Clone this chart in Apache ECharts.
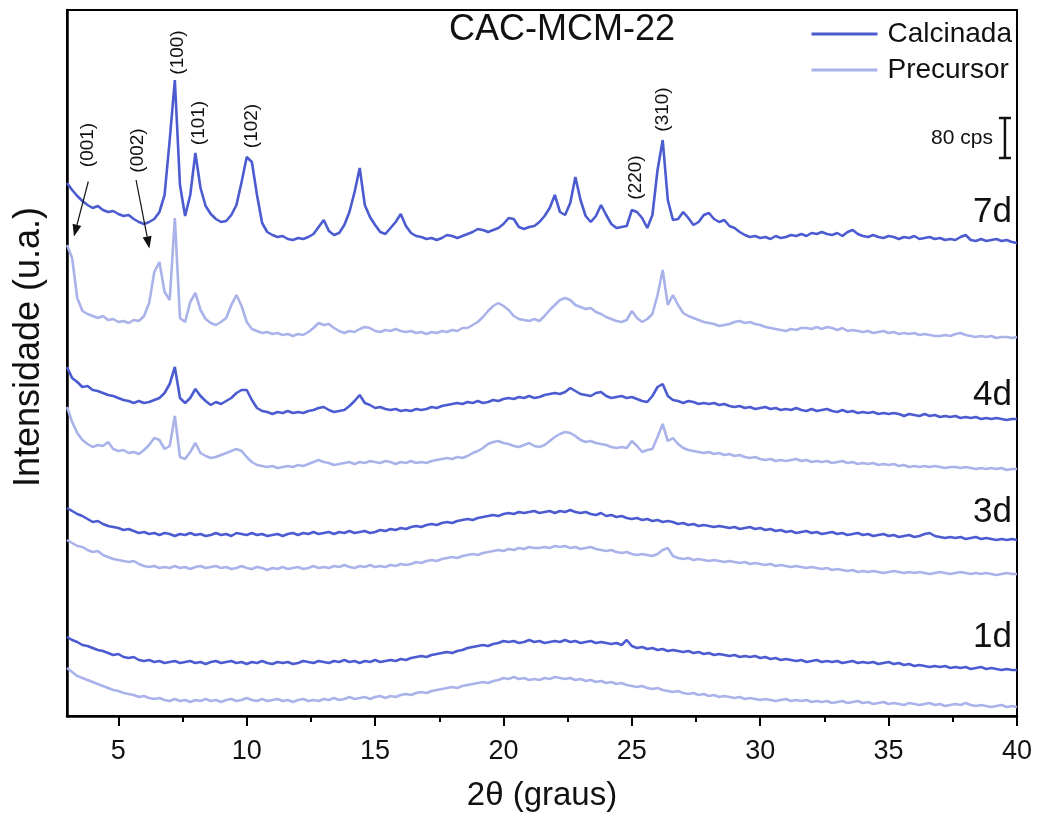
<!DOCTYPE html>
<html>
<head>
<meta charset="utf-8">
<title>CAC-MCM-22</title>
<script src="https://cdn.jsdelivr.net/npm/echarts@6/dist/echarts.min.js"></script>
<style>
  html, body { margin: 0; padding: 0; background: #ffffff; }
  #grafico { width: 1040px; height: 819px; }
</style>
</head>
<body>
<div id="grafico"></div>
<script>
// Difratogramas (2θ de 3° a 40°, passo de 0,2°). As intensidades (cps) já incluem
// o deslocamento vertical de cada curva.
const theta0 = 3;
const passo = 0.2;

const cal7d = [
  1066,1052,1040,1030,1022,1016,1020,1012,1008,1010,
  1004,1000,1002,994,988,984,988,994,1008,1042,
  1152,1272,1062,1000,1042,1126,1056,1020,1004,994,
  988,990,1002,1022,1068,1118,1108,1042,986,968,
  962,958,960,954,952,956,954,958,964,978,
  992,970,962,966,982,1008,1048,1096,1022,998,
  982,968,964,976,988,1004,980,966,960,958,
  954,956,952,956,962,960,956,960,964,968,
  974,972,968,972,976,984,996,994,978,974,
  978,980,988,1000,1016,1042,1008,1002,1026,1078,
  1032,1000,988,1000,1022,1002,984,976,978,980,
  1012,1008,996,976,1002,1092,1152,1032,992,994,
  1008,996,982,988,1002,1006,994,988,992,980,
  976,968,962,958,960,956,958,954,960,956,
  958,962,960,964,960,966,964,968,964,962,
  966,960,968,972,964,960,958,962,958,956,
  960,958,954,958,956,960,954,956,958,954,
  956,952,954,952,958,962,952,950,954,950,
  952,954,950,952,948,946
];
const pre7d = [
  942,916,836,810,804,800,796,800,792,794,
  788,790,786,792,790,800,826,888,908,848,
  832,996,796,788,828,846,812,794,786,782,
  788,796,822,842,820,788,774,770,766,768,
  764,766,762,764,760,764,762,768,776,786,
  782,784,776,770,766,770,768,774,778,776,
  770,768,772,770,774,770,768,770,766,768,
  764,768,766,770,768,772,770,776,776,782,
  788,798,810,820,826,820,812,800,794,792,
  790,794,790,800,812,822,832,836,832,822,
  818,814,816,808,804,798,794,790,788,792,
  810,796,788,794,804,842,892,822,842,822,
  806,800,796,792,788,786,784,780,782,784,
  788,790,786,788,784,782,778,776,774,772,
  770,774,772,776,776,774,778,774,778,776,
  772,776,770,772,770,768,770,766,768,770,
  766,768,764,766,764,766,762,764,762,760,
  760,762,760,764,766,762,760,758,760,758,
  760,756,758,758,756,758
];
const cal4d = [
  698,676,668,658,660,652,650,646,642,640,
  636,632,630,626,630,626,628,632,636,646,
  664,698,636,626,636,654,640,630,622,628,
  624,630,636,646,652,652,632,616,610,608,
  604,608,606,610,606,608,606,610,612,616,
  618,612,608,610,612,620,630,642,626,622,
  616,618,614,612,614,610,612,610,614,612,
  614,618,616,620,622,624,626,624,628,626,
  630,626,628,632,630,634,636,634,638,636,
  640,636,638,642,644,646,644,648,656,650,
  644,642,640,646,648,640,636,638,640,636,
  638,634,630,628,640,658,664,640,632,630,
  626,630,628,624,626,624,626,622,624,620,
  618,620,616,618,614,616,618,614,616,612,
  614,612,616,612,610,614,610,612,614,610,
  608,612,608,610,606,608,606,608,604,606,
  604,606,604,600,604,602,600,604,600,602,
  598,600,598,600,596,598,596,598,594,596,
  594,596,594,592,594,594
];
const pre4d = [
  618,588,566,552,544,538,542,540,548,534,
  530,532,526,528,524,532,542,556,552,534,
  540,600,518,514,528,546,526,520,516,518,
  522,526,530,534,530,518,508,502,500,498,
  500,496,498,500,498,502,500,504,508,512,
  508,506,502,504,506,508,504,508,506,510,
  508,506,510,508,504,508,506,510,506,508,
  506,510,512,514,516,514,518,516,520,526,
  530,536,544,548,550,546,544,540,538,542,
  546,540,538,542,550,558,564,568,566,560,
  552,548,550,546,544,542,538,536,538,536,
  550,540,528,532,534,558,584,550,556,544,
  536,532,530,528,526,528,524,526,522,524,
  520,522,518,516,518,514,512,514,510,512,
  510,512,514,510,512,508,510,508,510,506,
  508,510,506,508,504,506,504,506,502,504,
  502,504,500,502,498,500,498,500,498,500,
  498,496,498,498,496,498,496,494,496,494,
  496,494,496,492,494,494
];
const cal3d = [
  416,410,404,400,394,388,390,384,380,378,
  376,372,374,370,366,368,364,366,362,366,
  364,360,364,362,366,362,364,360,362,366,
  362,364,360,366,364,362,366,362,364,360,
  362,364,360,364,366,362,366,364,368,364,
  366,368,364,368,366,370,366,368,370,366,
  368,372,370,374,372,376,374,378,380,378,
  382,384,382,386,388,386,390,392,394,392,
  396,398,400,402,400,404,406,404,408,406,
  408,410,406,408,410,406,410,408,412,408,
  406,408,404,402,406,400,402,398,400,396,
  394,396,392,394,390,392,388,390,388,384,
  386,382,384,380,382,380,378,380,378,376,
  378,374,376,378,374,376,372,374,370,372,
  368,370,366,368,370,366,368,364,366,368,
  364,366,362,364,366,362,364,360,362,364,
  360,362,358,360,362,358,360,364,366,360,
  358,356,358,356,358,354,356,358,354,356,
  354,352,354,352,354,352
];
const pre3d = [
  352,346,340,338,332,328,330,322,318,314,
  312,310,308,310,304,300,298,300,296,298,
  296,300,296,298,294,298,300,296,298,300,
  296,298,294,296,300,296,294,298,296,292,
  296,294,298,294,296,298,294,296,300,296,
  298,296,300,298,302,298,296,300,298,302,
  298,300,298,302,300,304,302,304,308,306,
  310,312,310,314,316,318,316,320,322,324,
  322,326,328,330,332,330,334,332,336,334,
  338,336,336,338,336,340,338,340,336,338,
  334,336,338,334,332,330,332,328,326,328,
  324,322,324,322,320,324,332,336,320,316,
  314,316,312,314,312,310,312,310,308,310,
  308,306,308,304,306,304,302,304,300,302,
  300,298,300,298,296,298,296,294,296,292,
  294,292,290,292,288,290,288,290,288,286,
  288,290,288,286,288,286,288,286,284,286,
  288,286,284,286,288,286,284,286,284,286,
  284,282,284,286,284,284
];
const cal1d = [
  158,152,148,142,140,136,132,130,126,122,
  124,118,116,118,112,110,112,108,110,106,
  108,110,106,108,110,106,108,104,108,110,
  106,108,110,106,108,104,108,106,110,106,
  104,108,106,108,104,106,110,108,106,110,
  108,106,110,108,112,108,110,106,110,108,
  112,108,110,112,110,114,112,116,118,120,
  118,122,124,126,128,126,130,132,136,138,
  140,142,140,144,146,150,148,150,146,148,
  152,148,150,146,148,150,148,152,148,150,
  146,148,150,146,148,146,144,146,142,152,
  140,136,138,134,136,132,134,130,132,130,
  128,130,126,128,124,126,122,124,122,120,
  122,118,120,118,120,116,118,114,116,112,
  114,112,110,112,108,110,112,108,110,108,
  110,106,108,110,106,108,106,108,104,106,
  108,104,106,102,104,100,102,100,98,100,
  98,100,96,98,96,98,94,96,98,94,
  96,94,92,94,92,92
];
const pre1d = [
  96,88,80,76,72,68,64,60,56,52,
  50,46,44,42,38,40,36,34,36,32,
  30,34,30,32,28,32,30,34,30,32,
  28,32,34,30,32,36,32,30,34,30,
  32,34,30,32,28,32,34,30,32,30,
  34,32,36,32,34,38,34,36,38,34,
  38,40,36,40,38,42,44,42,46,48,
  46,50,52,54,56,58,56,60,62,64,
  66,68,66,70,72,76,74,78,74,76,
  72,74,72,76,74,78,76,74,76,72,
  74,70,72,68,70,66,68,64,66,62,
  60,58,60,56,54,56,52,50,48,50,
  46,44,46,42,44,40,42,38,40,38,
  36,38,34,36,34,32,34,32,30,32,
  34,30,32,30,32,28,30,28,30,26,
  28,30,26,28,30,26,28,24,26,28,
  24,26,24,22,26,24,22,24,26,22,
  24,20,22,24,22,26,22,20,22,20,
  18,20,22,18,20,18
];

// Marcas do eixo 2θ
const ticksPrincipais = [5, 10, 15, 20, 25, 30, 35, 40];
const ticksSecundarios = [7.5, 12.5, 17.5, 22.5, 27.5, 32.5, 37.5];

// Rótulos de tempo de síntese (2θ da borda direita, intensidade do centro)
const rotulosDias = [
  ['7d', 39.8, 1008],
  ['4d', 39.8, 642],
  ['3d', 39.8, 408],
  ['1d', 39.8, 158]
];

// Índices de Miller (2θ, intensidade do centro do texto)
const rotulosPicos = [
  ['(001)', 3.80, 1142],
  ['(002)', 5.75, 1131],
  ['(100)', 7.30, 1327],
  ['(101)', 8.14, 1186],
  ['(102)', 10.19, 1180],
  ['(220)', 25.14, 1077],
  ['(310)', 26.19, 1213]
];

// Setas para as reflexões (001) e (002): [2θ início, I início, 2θ ponta, I ponta]
const setas = [
  [3.83, 1069, 3.27, 959],
  [5.69, 1072, 6.21, 935]
];

// Barra de escala: posição 2θ, intensidade da base, altura em cps
const barraEscala = [39.53, 1116, 80];

const corCalcinada = '#4b5bd0';
const corPrecursor = '#aab2ea';
const fonteTexto = "'Liberation Sans', Arial, Helvetica, sans-serif";
const fonteEixo = "'Liberation Sans Narrow', 'Arial Narrow', 'Liberation Sans', Arial, sans-serif";

const thetas = cal7d.map((_, i) => +(theta0 + i * passo).toFixed(1));
const pares = (serie) => serie.map((v, i) => [thetas[i], v]);

function curva(nome, dados, cor, z) {
  return {
    type: 'line',
    name: nome,
    data: pares(dados),
    showSymbol: false,
    symbol: 'none',
    lineStyle: { color: cor, width: 2.6 },
    itemStyle: { color: cor },
    z: z,
    silent: true,
    animation: false
  };
}

const grafico = echarts.init(document.getElementById('grafico'), null, { renderer: 'canvas' });

const opcoes = {
  animation: false,
  backgroundColor: '#ffffff',
  title: {
    text: 'CAC-MCM-22',
    left: 449,
    top: 12,
    padding: 0,
    textStyle: { fontFamily: fonteTexto, fontSize: 36, fontWeight: 'normal', color: '#111' }
  },
  legend: {
    data: [
      { name: 'Calcinada', icon: 'rect' },
      { name: 'Precursor', icon: 'rect' }
    ],
    orient: 'vertical',
    right: 28,
    top: 20,
    padding: 0,
    itemWidth: 66,
    itemHeight: 3,
    itemGap: 8,
    selectedMode: false,
    textStyle: { fontFamily: fonteTexto, fontSize: 28, color: '#111', lineHeight: 28, padding: [0, 0, 0, 5] }
  },
  grid: {
    left: 67, right: 23, top: 10, bottom: 103,
    show: true, borderColor: '#000', borderWidth: 2, backgroundColor: 'transparent'
  },
  xAxis: [
    {
      type: 'value',
      min: 3, max: 40,
      name: '2θ (graus)',
      nameLocation: 'middle',
      nameGap: 63,
      nameTextStyle: { fontFamily: fonteEixo, fontSize: 33, color: '#111' },
      axisLine: { show: true, onZero: false, lineStyle: { color: '#000', width: 2.5 } },
      axisTick: { show: true, inside: false, length: 10, customValues: ticksPrincipais, lineStyle: { color: '#000', width: 2 } },
      axisLabel: { show: true, margin: 22, customValues: ticksPrincipais, fontFamily: fonteEixo, fontSize: 27, color: '#111' },
      splitLine: { show: false }
    },
    {
      type: 'value',
      min: 3, max: 40,
      position: 'bottom',
      axisLine: { show: false },
      axisTick: { show: true, inside: false, length: 6, customValues: ticksSecundarios, lineStyle: { color: '#000', width: 2 } },
      axisLabel: { show: false },
      splitLine: { show: false }
    }
  ],
  yAxis: {
    type: 'value',
    min: 0, max: 1412,
    name: 'Intensidade (u.a.)',
    nameLocation: 'middle',
    nameGap: 20,
    nameTextStyle: { fontFamily: fonteTexto, fontSize: 36, color: '#111', padding: [0, 0, 0, 32] },
    axisLine: { show: true, onZero: false, lineStyle: { color: '#000', width: 2.5 } },
    axisTick: { show: false },
    axisLabel: { show: false },
    splitLine: { show: false }
  },
  series: [
    curva('Calcinada', cal7d, corCalcinada, 4),
    curva('Precursor', pre7d, corPrecursor, 3),
    curva('Calcinada', cal4d, corCalcinada, 4),
    curva('Precursor', pre4d, corPrecursor, 3),
    curva('Calcinada', cal3d, corCalcinada, 4),
    curva('Precursor', pre3d, corPrecursor, 3),
    curva('Calcinada', cal1d, corCalcinada, 4),
    curva('Precursor', pre1d, corPrecursor, 3),
    {
      // tempos de síntese
      type: 'custom',
      name: 'dias',
      silent: true,
      z: 6,
      data: rotulosDias.map(r => [r[1], r[2]]),
      renderItem: (params, api) => {
        const r = rotulosDias[params.dataIndex];
        const p = api.coord([r[1], r[2]]);
        return {
          type: 'text',
          x: p[0], y: p[1],
          style: { text: r[0], fontFamily: fonteTexto, fontSize: 35, fill: '#111', align: 'right', verticalAlign: 'middle' }
        };
      }
    },
    {
      // índices de Miller, texto vertical
      type: 'custom',
      name: 'picos',
      silent: true,
      z: 6,
      data: rotulosPicos.map(r => [r[1], r[2]]),
      renderItem: (params, api) => {
        const r = rotulosPicos[params.dataIndex];
        const p = api.coord([r[1], r[2]]);
        return {
          type: 'text',
          x: p[0], y: p[1],
          rotation: Math.PI / 2,
          style: { text: r[0], fontFamily: fonteTexto, fontSize: 19, fill: '#111', align: 'center', verticalAlign: 'middle' }
        };
      }
    },
    {
      // setas indicando (001) e (002)
      type: 'custom',
      name: 'setas',
      silent: true,
      z: 7,
      data: setas.map(s => [s[2], s[3]]),
      renderItem: (params, api) => {
        const s = setas[params.dataIndex];
        const a = api.coord([s[0], s[1]]);
        const b = api.coord([s[2], s[3]]);
        const dx = b[0] - a[0], dy = b[1] - a[1];
        const len = Math.hypot(dx, dy);
        const ux = dx / len, uy = dy / len;
        const cab = 12, larg = 4.5;
        const base = [b[0] - ux * cab, b[1] - uy * cab];
        return {
          type: 'group',
          children: [
            { type: 'line', shape: { x1: a[0], y1: a[1], x2: base[0], y2: base[1] }, style: { stroke: '#111', lineWidth: 1.2 } },
            { type: 'polygon', shape: { points: [
              [b[0], b[1]],
              [base[0] - uy * larg, base[1] + ux * larg],
              [base[0] + uy * larg, base[1] - ux * larg]
            ] }, style: { fill: '#111' } }
          ]
        };
      }
    },
    {
      // barra de escala em cps
      type: 'custom',
      name: 'escala',
      silent: true,
      z: 7,
      data: [[barraEscala[0], barraEscala[1]]],
      renderItem: (params, api) => {
        const [x, y0, h] = barraEscala;
        const p0 = api.coord([x, y0]);
        const p1 = api.coord([x, y0 + h]);
        const c = 6;
        return {
          type: 'group',
          children: [
            { type: 'line', shape: { x1: p0[0], y1: p0[1], x2: p1[0], y2: p1[1] }, style: { stroke: '#111', lineWidth: 2.5 } },
            { type: 'line', shape: { x1: p0[0] - c, y1: p0[1], x2: p0[0] + c, y2: p0[1] }, style: { stroke: '#111', lineWidth: 2.5 } },
            { type: 'line', shape: { x1: p1[0] - c, y1: p1[1], x2: p1[0] + c, y2: p1[1] }, style: { stroke: '#111', lineWidth: 2.5 } },
            { type: 'text', x: p0[0] - 12, y: (p0[1] + p1[1]) / 2,
              style: { text: h + ' cps', fontFamily: fonteTexto, fontSize: 21, fill: '#111', align: 'right', verticalAlign: 'middle' } }
          ]
        };
      }
    }
  ]
};

grafico.setOption(opcoes);
</script>
</body>
</html>
